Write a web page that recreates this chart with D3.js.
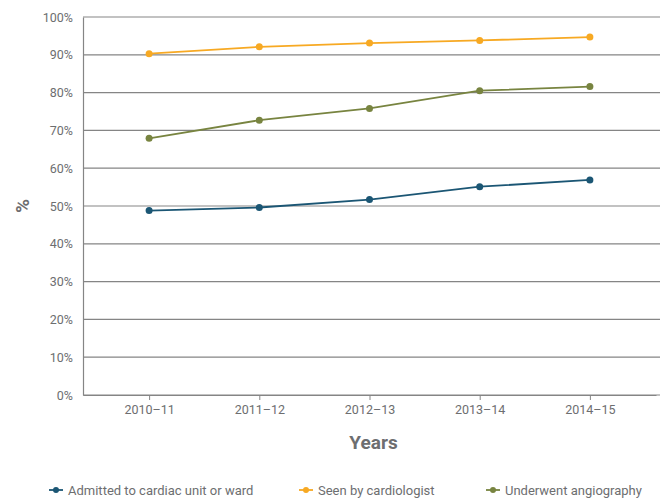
<!DOCTYPE html>
<html><head><meta charset="utf-8">
<script src="https://cdn.jsdelivr.net/npm/d3@7"></script>
<style>body{margin:0;background:#fff;} text{font-family:Roboto,"DejaVu Sans",sans-serif;}</style>
</head><body><svg id="c" width="670" height="500"></svg>
<script>
const categories = ["2010–11","2011–12","2012–13","2013–14","2014–15"];
const admitted = [48.8,49.6,51.7,55.1,56.9];
const cardiologist = [90.3,92.1,93.1,93.8,94.7];
const angiography = [67.9,72.7,75.8,80.5,81.6];
const yTicks = [0,10,20,30,40,50,60,70,80,90,100];
const seriesNames = ["Admitted to cardiac unit or ward","Seen by cardiologist","Underwent angiography"];
const colors = ["#1b5674","#f7a923","#788440"];
const series = [admitted, cardiologist, angiography];

const svg = d3.select("#c");
const L=83, R=656, T=17, B=395;
const x = d3.scalePoint().domain(categories).range([L,R]).padding(0.6);
const y = d3.scaleLinear().domain([0,100]).range([B,T]);
const grey="#6d6e70";

svg.append("g").selectAll("line").data(yTicks).join("line")
  .attr("x1",L).attr("x2",R+4).attr("y1",d=>y(d)).attr("y2",d=>y(d))
  .attr("stroke","#858585").attr("stroke-width",1.2);
const ya = svg.append("g").attr("transform",`translate(${L},0)`)
  .call(d3.axisLeft(y).tickValues(yTicks).tickFormat(d=>d+"%").tickSize(0).tickPadding(10));
ya.select(".domain").attr("stroke","#858585").attr("stroke-width",1.2);
ya.selectAll("text").attr("fill",grey).style("font-size","12.5px");
const xa = svg.append("g").attr("transform",`translate(0,${B})`)
  .call(d3.axisBottom(x).tickSize(5).tickSizeOuter(0).tickPadding(5));
xa.select(".domain").attr("stroke","#858585").attr("stroke-width",1.2);
xa.selectAll(".tick line").attr("stroke","#858585");
xa.selectAll("text").attr("fill",grey).style("font-size","12.5px");

const line = d3.line().x((d,i)=>x(categories[i])).y(d=>y(d));
series.forEach((s,k)=>{
  svg.append("path").datum(s).attr("d",line).attr("fill","none")
    .attr("stroke",colors[k]).attr("stroke-width",1.8);
  svg.append("g").selectAll("circle").data(s).join("circle")
    .attr("cx",(d,i)=>x(categories[i])).attr("cy",d=>y(d)).attr("r",3.5).attr("fill",colors[k]);
});

svg.append("text").attr("x",(L+R)/2+4).attr("y",449).attr("text-anchor","middle")
  .attr("fill",grey).style("font-size","19px").style("font-weight","bold").text("Years");
svg.append("text").attr("transform",`translate(29,${(T+B)/2}) rotate(-90)`).attr("text-anchor","middle")
  .attr("fill",grey).style("font-size","19px").style("font-weight","bold").text("%");

const lx=[49,299,486];
seriesNames.forEach((n,k)=>{
  const g=svg.append("g").attr("transform",`translate(${lx[k]},490)`);
  g.append("line").attr("x1",0).attr("x2",14).attr("stroke",colors[k]).attr("stroke-width",1.8);
  g.append("circle").attr("cx",7).attr("r",3).attr("fill",colors[k]);
  g.append("text").attr("x",19).attr("y",4.5).attr("fill",grey).style("font-size","13px").text(n);
});
</script></body></html>
